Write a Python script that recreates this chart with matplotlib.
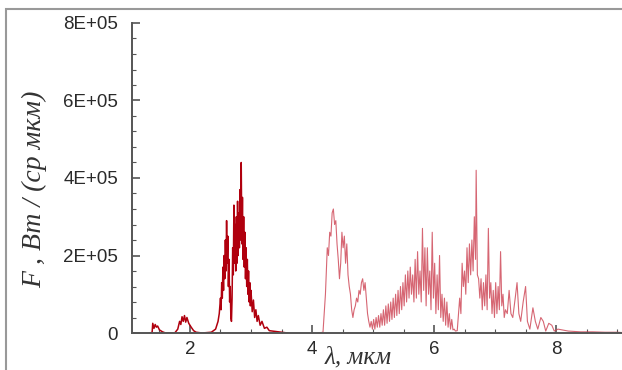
import matplotlib
matplotlib.use("Agg")
import matplotlib.pyplot as plt
from matplotlib.patches import Rectangle
from matplotlib.ticker import MultipleLocator
import numpy as np

# short-wave part (dark red), F in units of 1E+05
lam_a = [1.35, 1.38, 1.39, 1.41, 1.43, 1.45, 1.47, 1.50, 1.55, 1.60,
         1.75, 1.80, 1.83, 1.85, 1.87, 1.89, 1.91, 1.93, 1.95, 1.98,
         2.02, 2.06, 2.10, 2.20, 2.35, 2.42, 2.46,
         2.48, 2.50, 2.51, 2.52, 2.53, 2.54, 2.55, 2.56, 2.57, 2.58,
         2.59, 2.60, 2.61, 2.62, 2.63, 2.64, 2.65, 2.66, 2.67, 2.68,
         2.69, 2.70, 2.71, 2.72, 2.73, 2.74, 2.75, 2.76, 2.77, 2.78,
         2.79, 2.80, 2.81, 2.82, 2.83, 2.84, 2.85, 2.86, 2.87, 2.88,
         2.89, 2.90, 2.91, 2.92, 2.93, 2.94, 2.95, 2.96, 2.97, 2.98,
         2.99, 3.00, 3.02, 3.04, 3.06, 3.08, 3.10, 3.12, 3.15, 3.18,
         3.22, 3.26, 3.30, 3.40, 3.50, 3.60]
F_a = [0.0, 0.02, 0.25, 0.12, 0.22, 0.15, 0.18, 0.08, 0.03, 0.0,
       0.0, 0.1, 0.3, 0.22, 0.42, 0.3, 0.45, 0.28, 0.4, 0.25,
       0.15, 0.06, 0.02, 0.0, 0.02, 0.1, 0.3,
       0.5, 0.9, 0.6, 1.3, 0.9, 1.7, 1.1, 2.0, 1.4, 2.4,
       1.6, 2.9, 1.8, 2.5, 1.2, 1.9, 0.8, 1.2, 0.4, 0.3,
       0.9, 2.2, 1.5, 3.3, 1.8, 2.8, 1.6, 3.0, 1.8, 3.4,
       2.0, 3.1, 2.2, 3.7, 2.4, 4.4, 2.3, 3.5, 1.9, 3.0,
       1.7, 2.6, 1.4, 2.2, 1.2, 1.9, 1.0, 1.6, 0.8, 1.3,
       0.7, 1.1, 0.55, 0.85, 0.4, 0.6, 0.3, 0.45, 0.2, 0.3,
       0.12, 0.15, 0.06, 0.04, 0.02, 0.0]

# long-wave part (light red)
lam_b = [4.10, 4.18, 4.22, 4.25, 4.27, 4.29, 4.31, 4.33, 4.35, 4.37,
         4.39, 4.41, 4.43, 4.45, 4.47, 4.49, 4.51, 4.53, 4.55, 4.57,
         4.59, 4.61, 4.63, 4.65, 4.67, 4.69, 4.71, 4.73, 4.75, 4.77,
         4.79, 4.81, 4.83, 4.85, 4.87, 4.89, 4.91, 4.93, 4.95, 4.97,
         4.99, 5.01, 5.03, 5.05, 5.07, 5.09, 5.11, 5.13, 5.15, 5.17,
         5.19, 5.21, 5.23, 5.25, 5.27, 5.29, 5.31, 5.33, 5.35, 5.37,
         5.39, 5.41, 5.43, 5.45, 5.47, 5.49, 5.51, 5.53, 5.55, 5.57,
         5.59, 5.61, 5.63, 5.65, 5.67, 5.69, 5.71, 5.73, 5.75, 5.77,
         5.79, 5.81, 5.83, 5.85, 5.87, 5.89, 5.91, 5.93, 5.95, 5.97,
         5.99, 6.01, 6.03, 6.05, 6.07, 6.09, 6.11, 6.13, 6.15, 6.17,
         6.19, 6.21, 6.23, 6.25, 6.27, 6.29, 6.31, 6.33, 6.35, 6.38,
         6.40, 6.42, 6.44, 6.46, 6.48, 6.50, 6.52, 6.54, 6.56, 6.58,
         6.60, 6.62, 6.64, 6.66, 6.68, 6.69, 6.71, 6.73, 6.75, 6.77,
         6.79, 6.81, 6.83, 6.85, 6.87, 6.89, 6.91, 6.93, 6.95, 6.97,
         6.99, 7.01, 7.03, 7.05, 7.07, 7.09, 7.11, 7.13, 7.15, 7.17,
         7.20, 7.23, 7.26, 7.29, 7.33, 7.36, 7.39, 7.42, 7.46, 7.50,
         7.53, 7.57, 7.62, 7.66, 7.70, 7.75, 7.79, 7.83, 7.88, 7.93,
         7.97, 8.03, 8.10, 8.20, 8.30, 8.40, 8.60, 8.80, 9.00, 9.10]
F_b = [0.0, 0.02, 1.0, 2.2, 2.0, 2.6, 2.5, 3.1, 3.2, 2.8,
       2.9, 2.3, 1.9, 1.4, 1.8, 2.6, 2.2, 2.5, 1.8, 2.3,
       1.5, 1.2, 1.0, 0.6, 0.4, 0.6, 0.7, 0.9, 0.8, 1.1,
       1.0, 1.3, 1.4, 1.1, 1.3, 0.9, 0.5, 0.3, 0.15, 0.3,
       0.1, 0.35, 0.1, 0.4, 0.15, 0.45, 0.15, 0.5, 0.2, 0.6,
       0.2, 0.7, 0.25, 0.75, 0.3, 0.8, 0.35, 0.9, 0.4, 1.0,
       0.45, 1.1, 0.5, 1.2, 0.6, 1.3, 0.7, 1.5, 0.8, 1.6,
       0.9, 1.7, 1.0, 1.5, 0.8, 1.9, 0.9, 2.1, 1.0, 1.6,
       0.8, 2.7, 1.1, 2.2, 0.7, 2.2, 1.0, 1.6, 0.6, 2.6,
       0.9, 1.8, 0.5, 1.5, 0.6, 2.0, 0.4, 1.0, 0.3, 0.9,
       0.2, 0.8, 0.15, 0.5, 0.1, 0.35, 0.08, 0.1, 0.05, 0.06,
       0.5, 0.9, 0.5, 1.8, 1.2, 1.6, 1.0, 2.2, 1.3, 2.3,
       1.5, 2.4, 1.6, 3.0, 1.9, 4.2, 1.5, 1.4, 0.9, 1.4,
       0.6, 1.3, 0.7, 1.5, 0.6, 2.7, 0.9, 1.3, 0.5, 1.1,
       0.4, 1.3, 0.5, 1.2, 0.6, 2.1, 0.7, 1.0, 0.4, 0.6,
       0.5, 1.1, 0.5, 0.4, 0.9, 1.3, 0.5, 0.3, 0.8, 1.2,
       0.3, 0.1, 0.65, 0.3, 0.1, 0.4, 0.3, 0.05, 0.25, 0.2,
       0.05, 0.1, 0.08, 0.05, 0.04, 0.03, 0.03, 0.02, 0.02, 0.01]

yticks = [0, 2e5, 4e5, 6e5, 8e5]
ytick_labels = ["0", "2E+05", "4E+05", "6E+05", "8E+05"]
xticks = [2, 4, 6, 8]

fig = plt.figure(figsize=(6.22, 3.70), dpi=100)
ax = fig.add_axes([132 / 622, 1 - 333 / 370, 1 - 132 / 622, (333 - 23) / 370])

ax.plot(lam_a, np.array(F_a) * 1e5, color="#b0000e", lw=1.1)
ax.plot(lam_b, np.array(F_b) * 1e5, color="#cc4050", lw=0.8, alpha=0.8)

ax.set_xlim(1.05, 9.08)
ax.set_ylim(0, 8e5)
ax.set_yticks(yticks)
ax.set_yticklabels(ytick_labels)
ax.set_xticks(xticks)
ax.xaxis.set_minor_locator(MultipleLocator(0.5))
ax.yaxis.set_minor_locator(MultipleLocator(0.4e5))

for s in ["top", "right"]:
    ax.spines[s].set_visible(False)
for s in ["left", "bottom"]:
    ax.spines[s].set_color("#555555")
    ax.spines[s].set_linewidth(1.4)

ax.tick_params(which="both", direction="in", colors="#555555",
               labelcolor="#2a2a2a", labelsize=13.5)
ax.tick_params(which="major", length=6, width=1.2)
ax.tick_params(which="minor", length=3, width=0.8)
ax.tick_params(axis="y", which="major", pad=10)
ax.tick_params(axis="x", which="major", pad=6)
for lab in ax.get_xticklabels() + ax.get_yticklabels():
    lab.set_family("Liberation Sans")

fig.text(35 / 622, 1 - 189 / 370, "F , Вт / (ср мкм)", rotation=90,
         ha="center", va="center", family="Liberation Serif",
         style="italic", fontsize=20, color="#333333")
fig.text(325 / 622, 2 / 370, "λ, мкм", ha="left", va="bottom",
         family="Liberation Serif", style="italic", fontsize=18,
         color="#333333")

# grey frame around the picture
fig.add_artist(Rectangle((6 / 622, -0.1), 2, 1 - 9 / 370 + 0.1,
                         transform=fig.transFigure, fill=False,
                         ec="#999999", lw=1.5))

fig.savefig("out.png", dpi=100)
